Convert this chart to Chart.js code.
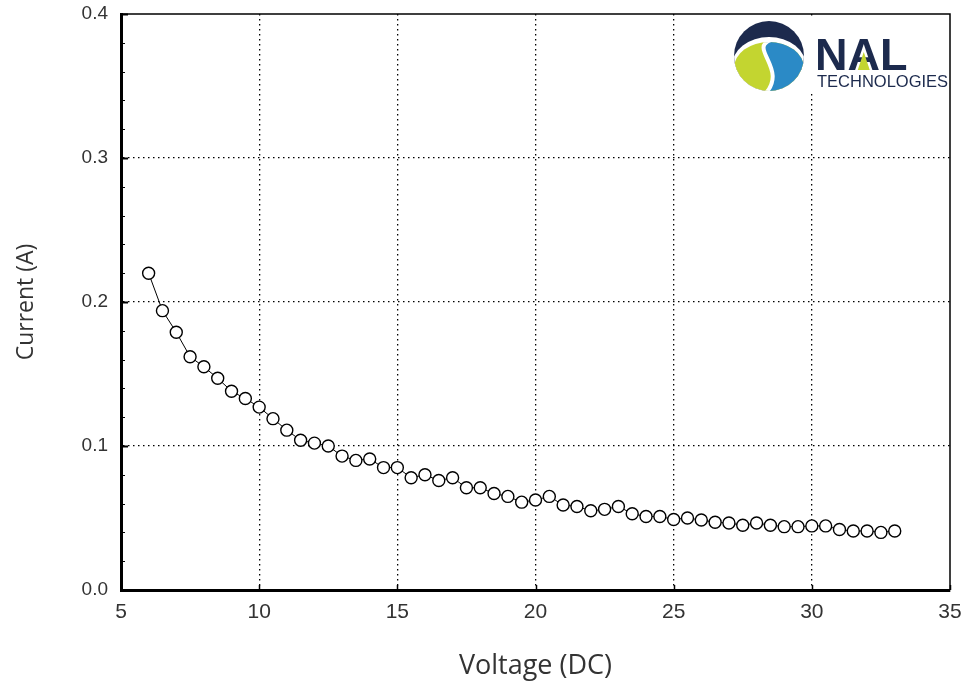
<!DOCTYPE html>
<html>
<head>
<meta charset="utf-8">
<title>Current vs Voltage</title>
<script src="https://cdn.jsdelivr.net/npm/chart.js@4/dist/chart.umd.min.js"></script>
<style>
    html, body { margin: 0; padding: 0; background: #fff; }
    #wrap { width: 968px; height: 686px; }
</style>
</head>
<body>
<div id="wrap"><canvas id="chart" width="968" height="686"></canvas></div>
<script>
// --- DATA ---
const voltage = [
    6, 6.5, 7, 7.5, 8, 8.5, 9, 9.5, 10, 10.5, 11, 11.5, 12, 12.5, 13, 13.5, 14, 14.5, 15,
    15.5, 16, 16.5, 17, 17.5, 18, 18.5, 19, 19.5, 20, 20.5, 21, 21.5, 22, 22.5, 23, 23.5,
    24, 24.5, 25, 25.5, 26, 26.5, 27, 27.5, 28, 28.5, 29, 29.5, 30, 30.5, 31, 31.5, 32, 32.5, 33
];
const current = [
    0.220, 0.194, 0.179, 0.162, 0.155, 0.147, 0.138, 0.133, 0.127, 0.119, 0.111, 0.104, 0.102, 0.100, 0.093, 0.090, 0.091, 0.085, 0.085,
    0.078, 0.080, 0.076, 0.078, 0.071, 0.071, 0.067, 0.065, 0.061, 0.0625, 0.065, 0.059, 0.058, 0.055, 0.056, 0.058, 0.053,
    0.051, 0.051, 0.049, 0.050, 0.0486, 0.047, 0.0465, 0.045, 0.0465, 0.045, 0.044, 0.044, 0.0445, 0.0445, 0.042, 0.041, 0.041, 0.040, 0.041
];
const xTicks = [5, 10, 15, 20, 25, 30, 35];
const yTicks = [0.0, 0.1, 0.2, 0.3, 0.4];
const yMinorStep = 0.02;

const xTitle = 'Voltage (DC)';
const yTitle = 'Current (A)';

// --- PLUGINS ---
const frameAndTicks = {
    id: 'frameAndTicks',
    afterDraw(chart) {
        const { ctx, chartArea: a, scales: { x, y } } = chart;
        ctx.save();
        ctx.strokeStyle = '#000';

        // thin top and right border
        ctx.lineWidth = 1.5;
        ctx.beginPath();
        ctx.moveTo(a.left, a.top);
        ctx.lineTo(a.right, a.top);
        ctx.lineTo(a.right, a.bottom);
        ctx.stroke();

        // inner ticks on y axis
        for (let v = 0; v <= 0.4001; v += yMinorStep) {
            const py = Math.round(y.getPixelForValue(v)) + 0.5;
            const major = Math.abs(v * 10 - Math.round(v * 10)) < 1e-6;
            ctx.lineWidth = major ? 2 : 1;
            ctx.beginPath();
            ctx.moveTo(a.left, py);
            ctx.lineTo(a.left + (major ? 7 : 4), py);
            ctx.stroke();
        }

        // inner ticks on x axis
        xTicks.forEach(v => {
            const px = Math.round(x.getPixelForValue(v)) + 0.5;
            ctx.lineWidth = 1.5;
            ctx.beginPath();
            ctx.moveTo(px, a.bottom);
            ctx.lineTo(px, a.bottom - 5);
            ctx.stroke();
        });
        ctx.restore();
    }
};

const logo = {
    id: 'logo',
    beforeDatasetsDraw(chart) {
        const ctx = chart.ctx;
        const navy = '#1c2a4d';
        const blue = '#2b8ac6';
        const lime = '#c3d530';
        ctx.save();

        // white box hides grid behind logo
        ctx.fillStyle = '#fff';
        ctx.fillRect(726, 16, 222, 78);

        // round mark
        const cx = 769, cy = 56, r = 35;
        ctx.save();
        ctx.beginPath();
        ctx.arc(cx, cy, r, 0, Math.PI * 2);
        ctx.clip();
        ctx.fillStyle = navy;
        ctx.fillRect(cx - r, cy - r, 2 * r, 2 * r);
        // white band under the cap
        ctx.fillStyle = '#fff';
        ctx.beginPath();
        ctx.ellipse(cx, cy + 10, r + 2, r - 6, 0, 0, Math.PI * 2);
        ctx.fill();
        // lime body
        ctx.fillStyle = lime;
        ctx.beginPath();
        ctx.ellipse(cx, cy + 12, r, r - 9, 0, 0, Math.PI * 2);
        ctx.fill();
        // blue right part
        ctx.save();
        ctx.beginPath();
        ctx.ellipse(cx, cy + 12, r, r - 9, 0, 0, Math.PI * 2);
        ctx.clip();
        ctx.fillStyle = blue;
        ctx.beginPath();
        ctx.moveTo(cx + 2, cy - 16);
        ctx.bezierCurveTo(cx - 22, cy - 8, cx + 22, cy + 14, cx - 6, cy + 40);
        ctx.lineTo(cx + r + 2, cy + 40);
        ctx.lineTo(cx + r + 2, cy - 16);
        ctx.closePath();
        ctx.fill();
        // white S curve
        ctx.strokeStyle = '#fff';
        ctx.lineWidth = 4;
        ctx.beginPath();
        ctx.moveTo(cx + 2, cy - 16);
        ctx.bezierCurveTo(cx - 22, cy - 8, cx + 22, cy + 14, cx - 6, cy + 40);
        ctx.stroke();
        ctx.restore();
        ctx.restore();

        // wordmark
        ctx.fillStyle = navy;
        ctx.textBaseline = 'alphabetic';
        ctx.textAlign = 'left';
        ctx.font = 'bold 45px "Liberation Sans", Arial, sans-serif';
        ctx.fillText('NAL', 815, 70);
        const nW = ctx.measureText('N').width;
        const aW = ctx.measureText('A').width;
        // lime triangle inside the A
        ctx.fillStyle = lime;
        ctx.beginPath();
        ctx.moveTo(815 + nW + aW / 2, 52);
        ctx.lineTo(815 + nW + aW / 2 - 6, 70);
        ctx.lineTo(815 + nW + aW / 2 + 6, 70);
        ctx.closePath();
        ctx.fill();
        ctx.fillStyle = navy;
        ctx.font = '16.5px "Liberation Sans", Arial, sans-serif';
        ctx.fillText('TECHNOLOGIES', 817, 87);
        ctx.restore();
    }
};

// --- CHART ---
const points = voltage.map((v, i) => ({ x: v, y: current[i] }));

function edgeColor(values) {
    return c => (c.tick && (c.tick.value === values[0] || c.tick.value === values[values.length - 1])) ? 'rgba(0,0,0,0)' : '#000';
}

new Chart(document.getElementById('chart'), {
    type: 'scatter',
    data: {
        datasets: [{
            data: points,
            showLine: true,
            borderColor: '#000',
            borderWidth: 1,
            pointRadius: 6,
            pointHoverRadius: 6,
            pointBackgroundColor: '#fff',
            pointBorderColor: '#000',
            pointBorderWidth: 1.4
        }]
    },
    options: {
        responsive: false,
        animation: false,
        layout: { padding: { top: 14, right: 18, left: 0, bottom: 0 } },
        plugins: { legend: { display: false }, tooltip: { enabled: false } },
        scales: {
            x: {
                type: 'linear',
                min: 5,
                max: 35,
                afterBuildTicks: s => { s.ticks = xTicks.map(v => ({ value: v })); },
                afterFit: s => { s.height = 96; s.paddingLeft = 0; s.paddingRight = 0; },
                grid: { color: edgeColor(xTicks), lineWidth: 1.3, drawTicks: false },
                border: { color: '#000', width: 3, dash: [1.5, 3.5] },
                ticks: { padding: 10, color: '#333', font: { family: '"Liberation Sans", Arial, sans-serif', size: 21 } },
                title: {
                    display: true, text: xTitle, color: '#333',
                    font: { family: '"Open Sans", sans-serif', size: 27 },
                    padding: { top: 0, bottom: 3 }
                }
            },
            y: {
                type: 'linear',
                min: 0,
                max: 0.4,
                afterBuildTicks: s => { s.ticks = yTicks.map(v => ({ value: v })); },
                afterFit: s => { s.width = 121; s.paddingTop = 0; s.paddingBottom = 0; },
                grid: { color: edgeColor(yTicks), lineWidth: 1.3, drawTicks: false },
                border: { color: '#000', width: 3, dash: [1.5, 3.5] },
                ticks: {
                    padding: 13, color: '#333',
                    font: { family: '"Liberation Sans", Arial, sans-serif', size: 19 },
                    callback: v => Number(v).toFixed(1)
                },
                title: {
                    display: true, text: yTitle, color: '#333',
                    font: { family: '"Open Sans", sans-serif', size: 23 },
                    padding: { top: 13, bottom: 0 }
                }
            }
        }
    },
    plugins: [logo, frameAndTicks]
});
</script>
</body>
</html>
